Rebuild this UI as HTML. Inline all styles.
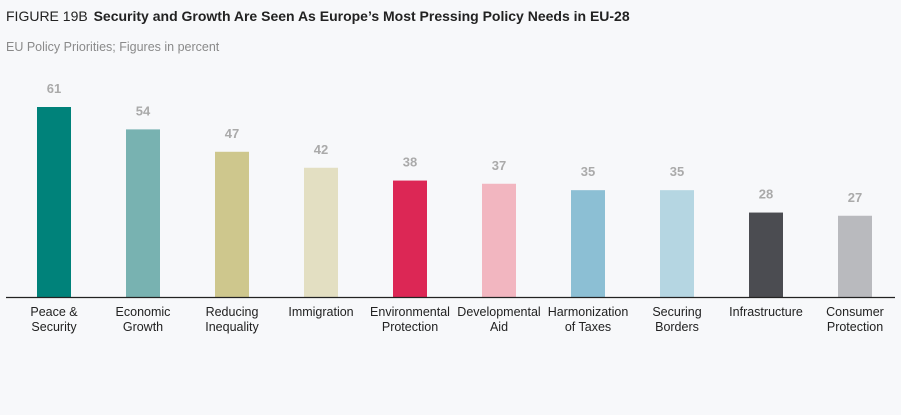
<!DOCTYPE html>
<html><head><meta charset="utf-8"><style>
body{margin:0;background:#f7f8fa;width:901px;height:410px;overflow:hidden;font-family:"Liberation Sans",sans-serif}
</style></head><body>
<svg width="901" height="410">
<rect width="901" height="410" fill="#f7f8fa"/>
<text x="6" y="21" font-size="14" fill="#222"><tspan>FIGURE 19B </tspan><tspan font-weight="bold" dx="2">Security and Growth Are Seen As Europe’s Most Pressing Policy Needs in EU-28</tspan></text>
<text x="6" y="51" font-size="12.5" fill="#8a8a8a">EU Policy Priorities; Figures in percent</text>
<g id="bars"></g>
<line x1="6" y1="297.5" x2="895" y2="297.5" stroke="#222" stroke-width="1.3"/>
</svg>
<script>
const categories=[["Peace &","Security"],["Economic","Growth"],["Reducing","Inequality"],["Immigration"],["Environmental","Protection"],["Developmental","Aid"],["Harmonization","of Taxes"],["Securing","Borders"],["Infrastructure"],["Consumer","Protection"]];
const values=[61,54,47,42,38,37,35,35,28,27];
const colors=["#00827a","#78b2b1","#cec78d","#e3dfc2","#dc2755","#f2b6c0","#8cbfd4","#b5d6e2","#4b4c51","#b9babe"];
const base=297, x0=54, step=89, bw=34;
function yScale(v){return base-(v-1.6)*(190/(61-1.6));}
const g=document.getElementById('bars');
const ns="http://www.w3.org/2000/svg";
values.forEach((v,i)=>{
  const cx=x0+i*step;
  const r=document.createElementNS(ns,'rect');
  
  
  r.setAttribute('x',cx-bw/2);r.setAttribute('y',yScale(v));
  r.setAttribute('width',bw);r.setAttribute('height',base-yScale(v));
  r.setAttribute('fill',colors[i]);g.appendChild(r);
  const t=document.createElementNS(ns,'text');
  
  
  t.setAttribute('x',cx);t.setAttribute('y',yScale(v)-14);
  t.setAttribute('text-anchor','middle');t.setAttribute('font-size','13');
  t.setAttribute('font-weight','bold');t.setAttribute('fill','#aaaaaa');
  t.textContent=v;g.appendChild(t);
  categories[i].forEach((line,j)=>{
    const c=document.createElementNS(ns,'text');
    
    
    c.setAttribute('x',cx);c.setAttribute('y',316+j*15);
    c.setAttribute('text-anchor','middle');c.setAttribute('font-size','12.5');
    c.setAttribute('fill','#222');c.textContent=line;g.appendChild(c);
  });
});
</script>
</body></html>
